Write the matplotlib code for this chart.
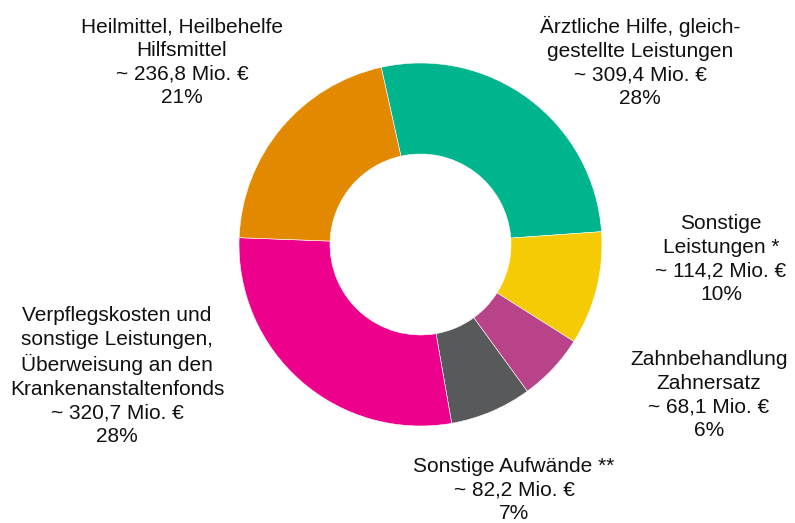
import matplotlib.pyplot as plt

plt.rcParams['font.family'] = ['Liberation Sans', 'DejaVu Sans']

# Data (order as drawn, clockwise from the top)
names = ['Ärztliche Hilfe, gleich-\ngestellte Leistungen',
         'Sonstige\nLeistungen *',
         'Zahnbehandlung\nZahnersatz',
         'Sonstige Aufwände **',
         'Verpflegskosten und\nsonstige Leistungen,\nÜberweisung an den\nKrankenanstaltenfonds',
         'Heilmittel, Heilbehelfe\nHilfsmittel']
values = [309.4, 114.2, 68.1, 82.2, 320.7, 236.8]
percents = [28, 10, 6, 7, 28, 21]
colors = ['#00B48E', '#F5CB05', '#B84389', '#58595B', '#EC008C', '#E28900']

# label centres in pixel coords (y from top)
label_pos = [(640, 62), (721, 259), (709, 395), (514, 490), (117, 376), (182, 62)]

W, H = 795, 523
fig = plt.figure(figsize=(W / 100, H / 100), dpi=100)
ax = fig.add_axes([0, 0, 1, 1])
ax.set_xlim(0, W)
ax.set_ylim(0, H)
ax.set_aspect('equal')
ax.axis('off')

ax.pie(values, colors=colors, startangle=102.5, counterclock=False,
       center=(420.5, H - 244.5), radius=181.5,
       wedgeprops=dict(width=91, edgecolor='white', linewidth=0.4))

for name, v, p, (x, y) in zip(names, values, percents, label_pos):
    txt = f"{name}\n~ {str(v).replace('.', ',')} Mio. €\n{p}%"
    ax.text(x, H - y, txt, ha='center', va='center', multialignment='center',
            fontsize=15, linespacing=1.3, color='#111111')

ax.set_xlim(0, W)
ax.set_ylim(0, H)
fig.savefig('out.png', dpi=100)
